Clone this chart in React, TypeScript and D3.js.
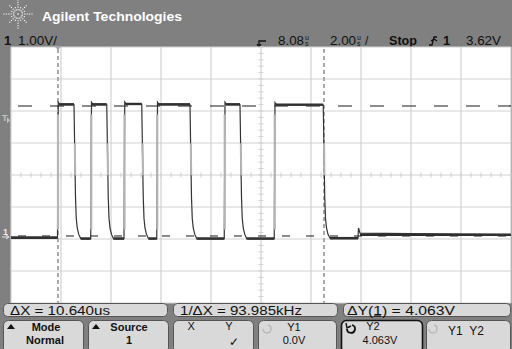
import React from 'react';
import * as d3 from 'd3';

const W = 512, H = 349;
// screen geometry in divisions
const hDivs = 10, vDivs = 8;
const timeDelay = 8.08; // us, centre of screen
const timePerDiv = 2.0; // us/div
const voltsPerDiv = 1.0; // V/div
const groundDivFromTop = 5.906; // ground reference position (divisions below top)

// waveform (time in us, volts)
const riseTimes = [-0.06, 1.27, 2.60, 3.91, 6.61, 8.61];
const fallTimes = [0.60, 1.91, 3.31, 5.24, 7.24, 10.57];
const highLevels = [4.1, 4.1, 4.11, 4.1, 4.1, 4.09];
const lowLevels = [-0.05, -0.08, -0.08, -0.08, -0.08, -0.08, -0.07];
const fallTailDt = [0.03, 0.06, 0.09, 0.13, 0.19, 0.27];
const fallTailV = [2.6, 1.2, 0.55, 0.25, 0.05, -0.07];
const spikeTime = 11.96;
const spikeV = 0.25;
const finalLevel = 0.04;

const cursorX = [-0.04, 10.6];
const cursorY = [0.0, 4.063];
const triggerLevel = 3.62;

const measureLabels = ['ΔX = 10.640us', '1/ΔX = 93.985kHz', 'ΔY(1) = 4.063V'];
const softkeyTop = ['Mode', 'Source', 'X          Y', 'Y1', 'Y2', 'Y1  Y2'];
const softkeyBottom = ['Normal', '1', '✓', '0.0V', '4.063V', ''];

const FONT = "'Liberation Sans', Arial, sans-serif";

export default function App() {
  const left = 11, right = 511, top = 47, bottom = 303;
  const tStart = timeDelay - (hDivs / 2) * timePerDiv;
  const tEnd = timeDelay + (hDivs / 2) * timePerDiv;
  const vTop = groundDivFromTop * voltsPerDiv;
  const vBottom = vTop - vDivs * voltsPerDiv;
  const x = d3.scaleLinear().domain([tStart, tEnd]).range([left, right]);
  const y = d3.scaleLinear().domain([vBottom, vTop]).range([bottom, top]);

  // build trace vertices
  const pts: [number, number][] = [];
  const highSegs: [number, number, number][] = [];
  const lowSegs: [number, number, number][] = [];
  const riseSegs: number[] = [];
  const fallSegs: [number, number][] = [];
  pts.push([tStart, lowLevels[0]]);
  let prevLowStart = tStart;
  riseTimes.forEach((r, i) => {
    lowSegs.push([prevLowStart, r, lowLevels[i]]);
    pts.push([r, lowLevels[i]]);
    pts.push([r + 0.03, highLevels[i] + 0.08]);
    pts.push([r + 0.1, highLevels[i]]);
    pts.push([fallTimes[i], highLevels[i]]);
    highSegs.push([r + 0.05, fallTimes[i], highLevels[i]]);
    riseSegs.push(r);
    fallSegs.push([fallTimes[i], highLevels[i]]);
    fallTailDt.forEach((dt, k) => {
      const v = k === fallTailDt.length - 1 ? lowLevels[i + 1] : fallTailV[k];
      pts.push([fallTimes[i] + dt, v]);
    });
    prevLowStart = fallTimes[i] + fallTailDt[fallTailDt.length - 1];
  });
  const lastLow = lowLevels[lowLevels.length - 1];
  lowSegs.push([prevLowStart, spikeTime, lastLow]);
  pts.push([spikeTime, lastLow]);
  pts.push([spikeTime + 0.02, spikeV]);
  pts.push([spikeTime + 0.08, finalLevel + 0.05]);
  pts.push([tEnd, finalLevel]);
  lowSegs.push([spikeTime + 0.08, tEnd, finalLevel]);

  const line = d3.line<[number, number]>().x(d => x(d[0])).y(d => y(d[1]));

  const gridX = d3.range(0, hDivs + 1).map(i => x(tStart + i * timePerDiv));
  const gridY = d3.range(0, vDivs + 1).map(j => y(vTop - j * voltsPerDiv));
  const cx = x(timeDelay);
  const cy = gridY[vDivs / 2];
  const minorX = d3.range(0, hDivs * 5 + 1).map(i => x(tStart + i * timePerDiv / 5));
  const minorY = d3.range(0, vDivs * 5 + 1).map(j => y(vTop - j * voltsPerDiv / 5));

  // logo dots (spark)
  const logoDots: [number, number, number][] = [];
  const rays = [
    [0, 5], [22.5, 2], [45, 4], [67.5, 2], [90, 5], [112.5, 2], [135, 4], [157.5, 2],
    [180, 5], [202.5, 2], [225, 4], [247.5, 2], [270, 5], [292.5, 2], [315, 4], [337.5, 2],
  ];
  rays.forEach(([a, n]) => {
    for (let k = 1; k <= n; k++) {
      const rr = 2 + k * 2.4;
      logoDots.push([18 + rr * Math.cos((a * Math.PI) / 180), 14 + rr * Math.sin((a * Math.PI) / 180), k]);
    }
  });

  const mBoxes = [[3, 167], [173, 337], [343, 510]];
  const sBoxes = [[3, 83], [88, 168], [173, 253], [258, 336], [341, 422], [426, 510]];

  return (
    <svg width={W} height={H} style={{ position: 'fixed', left: 0, top: 0 }} fontFamily={FONT}>
      <rect x={0} y={0} width={W} height={H} fill="#808080" />
      {/* header */}
      {logoDots.map((d, i) => (
        <rect key={i} x={d[0] - 0.55} y={d[1] - 0.55} width={1.1} height={1.1} fill="#fff" />
      ))}
      <rect x={17.4} y={13.4} width={1.3} height={1.3} fill="#fff" />
      <text x={42} y={21} fill="#fff" fontWeight="bold" fontSize={13.5} textLength={140} lengthAdjust="spacingAndGlyphs">
        Agilent Technologies
      </text>
      <text x={4} y={45} fill="#111" fontWeight="bold" fontSize={13}>1</text>
      <text x={18} y={45} fill="#111" fontSize={12} textLength={39} lengthAdjust="spacingAndGlyphs">1.00V/</text>
      <path d="M259,46 L259,41 L266,41 M257,44 L259,47 L261,44" stroke="#111" strokeWidth={1.3} fill="none" />
      <text x={278} y={45} fill="#111" fontSize={12} textLength={26} lengthAdjust="spacingAndGlyphs">8.08</text>
      <text x={305} y={40} fill="#111" fontSize={7}>u</text>
      <text x={305} y={46} fill="#111" fontSize={7}>s</text>
      <text x={330} y={45} fill="#111" fontSize={12} textLength={26} lengthAdjust="spacingAndGlyphs">2.00</text>
      <text x={357} y={40} fill="#111" fontSize={7}>u</text>
      <text x={357} y={46} fill="#111" fontSize={7}>s</text>
      <text x={365} y={45} fill="#111" fontSize={12}>/</text>
      <text x={389} y={45} fill="#111" fontSize={12} fontWeight="bold" textLength={28} lengthAdjust="spacingAndGlyphs">Stop</text>
      <path d="M429,45 L432,45 L434,37 L437,37 M431,41 L434,39 L437,41" stroke="#111" strokeWidth={1.3} fill="none" />
      <text x={443} y={45} fill="#111" fontSize={13} fontWeight="bold">1</text>
      <text x={466} y={45} fill="#111" fontSize={12} textLength={35} lengthAdjust="spacingAndGlyphs">3.62V</text>

      {/* screen */}
      <rect x={left} y={top} width={right - left} height={bottom - top} fill="#ffffff" />
      {gridX.map((gx, i) => (
        <line key={'gx' + i} x1={gx} x2={gx} y1={top} y2={bottom} stroke="#d2d2d2" strokeWidth={1.2} />
      ))}
      {gridY.map((gy, i) => (
        <line key={'gy' + i} x1={left} x2={right} y1={gy} y2={gy} stroke="#d2d2d2" strokeWidth={1.2} />
      ))}
      {minorX.map((mx, i) => (
        <line key={'mx' + i} x1={mx} x2={mx} y1={cy - 2.5} y2={cy + 2.5} stroke="#cfcfcf" strokeWidth={1} />
      ))}
      {minorY.map((my, i) => (
        <line key={'my' + i} x1={cx - 2.5} x2={cx + 2.5} y1={my} y2={my} stroke="#cfcfcf" strokeWidth={1} />
      ))}

      {/* cursors */}
      {cursorX.map((c, i) => (
        <line key={'cx' + i} x1={x(c)} x2={x(c)} y1={top + 2} y2={bottom} stroke="#a9a9a9" strokeWidth={2} strokeDasharray="4,3" />
      ))}
      <path d={`M${x(cursorX[0]) - 3},${top} L${x(cursorX[0]) + 3},${top} L${x(cursorX[0])},${top + 3} Z`} fill="#a9a9a9" />
      <line x1={left + 7} x2={right} y1={y(cursorY[1])} y2={y(cursorY[1])} stroke="#1a1a1a" strokeWidth={1.2} strokeDasharray="14,18" />
      <line x1={left + 7} x2={right} y1={y(cursorY[0])} y2={y(cursorY[0])} stroke="#1a1a1a" strokeWidth={1} strokeDasharray="8,16" />

      {/* trace */}
      {lowSegs.map((s, i) => (
        <line key={'ls' + i} x1={x(s[0])} x2={x(s[1])} y1={y(s[2])} y2={y(s[2])} stroke="#2e2e2e" strokeWidth={2.6} />
      ))}
      {highSegs.map((s, i) => (
        <line key={'hs' + i} x1={x(s[0])} x2={x(s[1])} y1={y(s[2]) - 0.5} y2={y(s[2]) - 0.5} stroke="#2e2e2e" strokeWidth={2.4} />
      ))}
      <path d={line(pts) || ''} fill="none" stroke="#333" strokeWidth={1.2} />
      {riseSegs.map((r, i) => (
        <line key={'rs' + i} x1={x(r) + 0.5} x2={x(r) + 0.5} y1={y(0.2)} y2={y(3.8)} stroke="#b4b4b4" strokeWidth={2.2} />
      ))}
      {fallSegs.map((f, i) => (
        <line key={'fs' + i} x1={x(f[0]) + 0.8} x2={x(f[0]) + 1.2} y1={y(2.9)} y2={y(1.9)} stroke="#b4b4b4" strokeWidth={2} />
      ))}

      {/* left markers */}
      <text x={2} y={y(triggerLevel) + 1} fill="#c4c4c4" fontSize={9} fontWeight="bold">T</text>
      <path d={`M7,${y(triggerLevel) - 3} L10,${y(triggerLevel)} L7,${y(triggerLevel) + 3} Z`} fill="#c4c4c4" />
      <text x={3} y={y(0) - 1} fill="#e8e8e8" fontSize={9} fontWeight="bold">1</text>
      <path d={`M2,${y(0) + 1} L8,${y(0) + 1} M6,${y(0) - 1} L9,${y(0) + 1} L6,${y(0) + 3}`} stroke="#e8e8e8" strokeWidth={1} fill="none" />

      {/* measurement boxes */}
      {mBoxes.map((b, i) => (
        <rect key={'mb' + i} x={b[0] + 0.5} y={303.5} width={b[1] - b[0]} height={13} rx={4} fill="#d9d9d9" stroke="#555" strokeWidth={1} />
      ))}
      <text x={10} y={314.5} fontSize={12} fill="#111" textLength={100} lengthAdjust="spacingAndGlyphs">{measureLabels[0]}</text>
      <text x={180} y={314.5} fontSize={12} fill="#111" textLength={122} lengthAdjust="spacingAndGlyphs">{measureLabels[1]}</text>
      <text x={347} y={314.5} fontSize={12} fill="#111" textLength={108} lengthAdjust="spacingAndGlyphs">{measureLabels[2]}</text>
      <line x1={374} x2={381} y1={316} y2={316} stroke="#111" strokeWidth={1.2} />

      {/* softkeys */}
      {sBoxes.map((b, i) => (
        <rect key={'sb' + i} x={b[0] + 0.5} y={320.5} width={b[1] - b[0]} height={32} rx={5}
          fill="#d9d9d9" stroke={i === 4 ? '#111' : '#555'} strokeWidth={i === 4 ? 1.6 : 1} />
      ))}
      <path d="M7,329 L11,324 L15,329 Z" fill="#111" />
      <path d="M92,329 L96,324 L100,329 Z" fill="#111" />
      <text x={46} y={331} textAnchor="middle" fontSize={11} fontWeight="bold" fill="#111">{softkeyTop[0]}</text>
      <text x={45} y={344} textAnchor="middle" fontSize={11} fontWeight="bold" fill="#111">{softkeyBottom[0]}</text>
      <text x={129} y={331} textAnchor="middle" fontSize={11} fontWeight="bold" fill="#111">{softkeyTop[1]}</text>
      <text x={129} y={344} textAnchor="middle" fontSize={11} fontWeight="bold" fill="#111">{softkeyBottom[1]}</text>
      <text x={210} y={330} textAnchor="middle" fontSize={11} fill="#111" xmlSpace="preserve">{softkeyTop[2]}</text>
      <text x={234} y={346} textAnchor="middle" fontSize={12} fill="#111">{softkeyBottom[2]}</text>
      <text x={294} y={331} textAnchor="middle" fontSize={11} fill="#111">{softkeyTop[3]}</text>
      <text x={294} y={344} textAnchor="middle" fontSize={11} fill="#111">{softkeyBottom[3]}</text>
      <text x={373} y={330} textAnchor="middle" fontSize={11} fill="#111">{softkeyTop[4]}</text>
      <text x={380} y={344} textAnchor="middle" fontSize={11} fill="#111">{softkeyBottom[4]}</text>
      <text x={466} y={335} textAnchor="middle" fontSize={12} fill="#111" xmlSpace="preserve">{softkeyTop[5]}</text>
      {/* rotate icons */}
      <path d="M268,325 A4,4 0 1 1 263,329" stroke="#b8b8b8" strokeWidth={1.4} fill="none" />
      <path d="M352,325 A4,4 0 1 1 347,329" stroke="#111" strokeWidth={1.8} fill="none" />
      <path d="M346,323 L347,328 L351,326" stroke="#111" strokeWidth={1.4} fill="none" />
      <path d="M434,325 A4,4 0 1 1 429,329" stroke="#b8b8b8" strokeWidth={1.4} fill="none" />
    </svg>
  );
}
